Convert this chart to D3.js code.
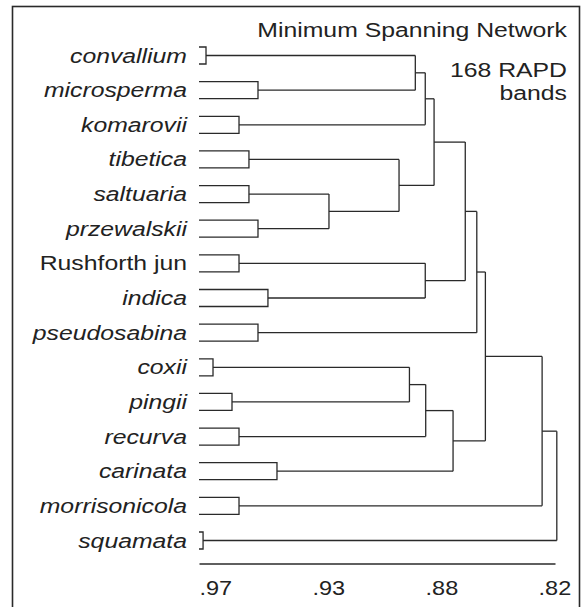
<!DOCTYPE html>
<html>
<head>
<meta charset="utf-8">
<script src="https://cdn.jsdelivr.net/npm/d3@7"></script>
<style>
  body { margin: 0; background: #fff; }
  svg { display: block; }
  text { font-family: "Liberation Sans", Arial, sans-serif; fill: #222; }
</style>
</head>
<body>
<svg width="585" height="607"></svg>
<script>
// Leaves, top to bottom
const leaves = ["convallium", "microsperma", "komarovii", "tibetica", "saltuaria",
                "przewalskii", "Rushforth jun", "indica", "pseudosabina", "coxii",
                "pingii", "recurva", "carinata", "morrisonicola", "squamata"];
const italicLeaf = leaves.map(d => d !== "Rushforth jun");
// Within-leaf similarity (right edge of each bracket)
const leafHeights = [0.9669, 0.9439, 0.9523, 0.9479, 0.9479,
                     0.9439, 0.9523, 0.9395, 0.9439, 0.9638,
                     0.9554, 0.9523, 0.9355, 0.9523, 0.9682];
// Merges: [childA, childB, similarity]; new clusters numbered from 15
const merges = [
  [0, 1, 0.8743],   // 15
  [15, 2, 0.8699],  // 16
  [4, 5, 0.9125],   // 17
  [3, 17, 0.8815],  // 18
  [16, 18, 0.8660], // 19
  [6, 7, 0.8699],   // 20
  [19, 20, 0.8522], // 21
  [21, 8, 0.8471],  // 22
  [9, 10, 0.8769],  // 23
  [23, 11, 0.8697], // 24
  [24, 12, 0.8576], // 25
  [22, 25, 0.8433], // 26
  [26, 13, 0.8182], // 27
  [27, 14, 0.8117]  // 28
];
const tickVals = [0.97, 0.92, 0.87, 0.82];
const tickLabels = [".97", ".93", ".88", ".82"];
const titleLines = ["Minimum Spanning Network"];
const noteLines = ["168 RAPD", "bands"];

const svg = d3.select("svg");
const ink = "#2a2a2a";

// frame
svg.append("rect")
   .attr("x", 12.5).attr("y", 6.5)
   .attr("width", 567).attr("height", 620)
   .attr("fill", "none").attr("stroke", ink).attr("stroke-width", 1.6);

// Scales
const x = d3.scaleLinear().domain([0.97, 0.8125]).range([199, 555]);
const y = d3.scalePoint().domain(leaves).range([55.5, 540.5]);

// Build nodes from the merge table
const nodes = leaves.map((name, i) => ({ name, h: leafHeights[i], y: y(name), leaf: true }));
merges.forEach(([a, b, h]) => {
  const na = nodes[a], nb = nodes[b];
  const node = { h, y: (na.y + nb.y) / 2, children: [na, nb] };
  na.parent = node; nb.parent = node;
  nodes.push(node);
});

const g = svg.append("g")
             .attr("fill", "none")
             .attr("stroke", ink)
             .attr("stroke-width", 1.3);

const half = 8.5;
// leaf brackets
g.selectAll("path.leaf")
 .data(nodes.filter(d => d.leaf))
 .join("path")
 .attr("class", "leaf")
 .attr("d", d => `M${x(0.97)},${d.y - half}H${x(d.h)}V${d.y + half}H${x(0.97)}`);

// horizontal connectors
g.selectAll("path.hor")
 .data(nodes.filter(d => d.parent))
 .join("path")
 .attr("class", "hor")
 .attr("d", d => `M${x(d.h)},${d.y}H${x(d.parent.h)}`);

// vertical joins
g.selectAll("path.ver")
 .data(nodes.filter(d => d.children))
 .join("path")
 .attr("class", "ver")
 .attr("d", d => `M${x(d.h)},${d.children[0].y}V${d.children[1].y}`);

// leaf labels
svg.append("g").selectAll("text")
   .data(leaves)
   .join("text")
   .attr("transform", d => `translate(187,${y(d) + 7}) scale(1.18,1)`)
   .attr("text-anchor", "end")
   .attr("font-size", 21)
   .attr("font-style", (d, i) => italicLeaf[i] ? "italic" : "normal")
   .text(d => d);

// axis
const axis = svg.append("g")
   .attr("transform", "translate(0,563.5)")
   .call(d3.axisBottom(x).tickValues(tickVals).tickFormat((d, i) => tickLabels[i])
           .tickSizeInner(0).tickSizeOuter(0));
axis.select(".domain").attr("stroke", ink).attr("stroke-width", 1.3);
axis.selectAll(".tick text")
    .attr("y", 31.5).attr("dy", 0)
    .attr("text-anchor", "start")
    .attr("transform", "scale(1.12,1)")
    .attr("font-size", 21)
    .attr("font-family", "Liberation Sans, Arial, sans-serif")
    .attr("fill", "#222");

// title and note
svg.selectAll("text.title")
   .data(titleLines)
   .join("text")
   .attr("class", "title")
   .attr("transform", "translate(567,36.7) scale(1.18,1)")
   .attr("text-anchor", "end")
   .attr("font-size", 21)
   .text(d => d);

svg.selectAll("text.note")
   .data(noteLines)
   .join("text")
   .attr("class", "note")
   .attr("transform", (d, i) => `translate(567,${76.7 + i * 23.3}) scale(1.18,1)`)
   .attr("text-anchor", "end")
   .attr("font-size", 21)
   .text(d => d);
</script>
</body>
</html>
